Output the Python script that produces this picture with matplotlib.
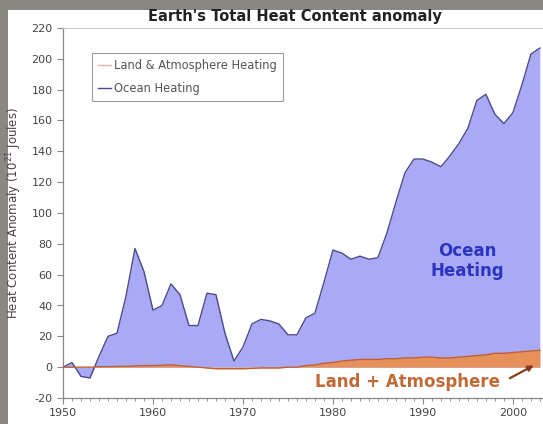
import matplotlib
matplotlib.use('Agg')
import matplotlib.pyplot as plt
from matplotlib.patches import Rectangle
from matplotlib.ticker import MultipleLocator

plt.rcParams['font.family'] = ['DejaVu Sans']
plt.rcParams['axes.unicode_minus'] = False

# Years 1950 - 2003
years = list(range(1950, 2004))

# Ocean heat content anomaly (10^21 J)
ocean = [0, 3, -6, -7, 7, 20, 22, 46, 77, 62,
         37, 40, 54, 47, 27, 27, 48, 47, 22, 4,
         13, 28, 31, 30, 28, 21, 21, 32, 35, 55,
         76, 74, 70, 72, 70, 71, 87, 107, 126, 135,
         135, 133, 130, 137, 145, 155, 173, 177, 164, 158,
         165, 183, 203, 207]

# Land & atmosphere heating
land = [0, 0, 0, 0, 0.3, 0.3, 0.5, 0.5, 0.8, 1,
        1, 1.2, 1.5, 1, 0.5, 0, -0.5, -1, -1, -1,
        -1, -0.8, -0.5, -0.5, -0.5, 0, 0, 1, 1.5, 2.5,
        3, 4, 4.5, 5, 5, 5, 5.5, 5.5, 6, 6,
        6.5, 6.5, 6, 6, 6.5, 7, 7.5, 8, 9, 9,
        9.5, 10, 10.5, 11]

ocean_fill = '#a9a9f6'
ocean_line = '#4a4a8c'
land_fill = '#e8905a'
land_line = '#c0602e'

fig = plt.figure(figsize=(5.43, 4.24), dpi=100)
fig.patch.set_facecolor('#8a8682')
# white chart area inside the grey photo frame
fig.patches.append(Rectangle((8 / 543, 0), 1, 1 - 10 / 424, transform=fig.transFigure,
                             facecolor='white', edgecolor='none', zorder=-5))

ax = fig.add_axes([63 / 543, 1 - 398 / 424, 1 - 63 / 543, (398 - 28) / 424])
ax.set_facecolor('white')

# Ocean heating area
ax.fill_between(years, 0, ocean, color=ocean_fill, lw=0, zorder=2)
ax.plot(years, ocean, color=ocean_line, lw=1.0, zorder=3, label='_nolegend_')

# Land + atmosphere band
ax.fill_between(years, 0, land, color=land_fill, lw=0, zorder=4)
ax.plot(years, land, color=land_line, lw=1.0, zorder=5, label='_nolegend_')

# legend handles
ax.plot([], [], color='#e2b4a4', lw=1.0, label='Land & Atmosphere Heating')
ax.plot([], [], color=ocean_line, lw=1.0, label='Ocean Heating')
leg = ax.legend(loc='upper left', bbox_to_anchor=(0.048, 0.948), fontsize=8.3,
                frameon=True, fancybox=False, handlelength=1.1, handletextpad=0.3,
                borderpad=0.55, labelspacing=0.8, labelcolor='#555555')
leg.get_frame().set_edgecolor('#888888')
leg.get_frame().set_linewidth(0.8)

ax.set_xlim(1950, 2003.35)
ax.set_ylim(-20, 220)
ax.xaxis.set_major_locator(MultipleLocator(10))
ax.xaxis.set_minor_locator(MultipleLocator(1))
ax.yaxis.set_major_locator(MultipleLocator(20))
ax.tick_params(axis='both', which='major', direction='out', length=4, width=0.8,
               color='#888888', labelsize=8, labelcolor='#444444')
ax.tick_params(axis='x', which='minor', direction='out', length=2, width=0.6, color='#888888')
ax.tick_params(axis='x', pad=3)

for side in ['left', 'bottom']:
    ax.spines[side].set_color('#888888')
    ax.spines[side].set_linewidth(0.9)
ax.spines['top'].set_color('#cccccc')
ax.spines['top'].set_linewidth(0.8)
ax.spines['right'].set_visible(False)

ax.set_ylabel('Heat Content Anomaly (10$^{21}$ Joules)', fontsize=8.5, color='#444444', labelpad=5)

fig.text(295 / 543, 1 - 16 / 424, "Earth's Total Heat Content anomaly", ha='center', va='center',
         fontsize=10.5, fontweight='bold', color='#222222')

ax.text(1994.9, 69, 'Ocean\nHeating', ha='center', va='center', fontsize=12,
        fontweight='bold', color='#2a36c0', linespacing=1.15, zorder=6)
ax.text(1978.0, -9.5, 'Land + Atmosphere', ha='left', va='center', fontsize=12,
        fontweight='bold', color='#c06a36', zorder=6)
ax.annotate('', xy=(2002.6, 2), xytext=(1999.4, -8),
            arrowprops=dict(arrowstyle='-|>', color='#8a3a18', lw=1.6, mutation_scale=8), zorder=6)

plt.savefig('out.png', dpi=100, facecolor=fig.get_facecolor())
